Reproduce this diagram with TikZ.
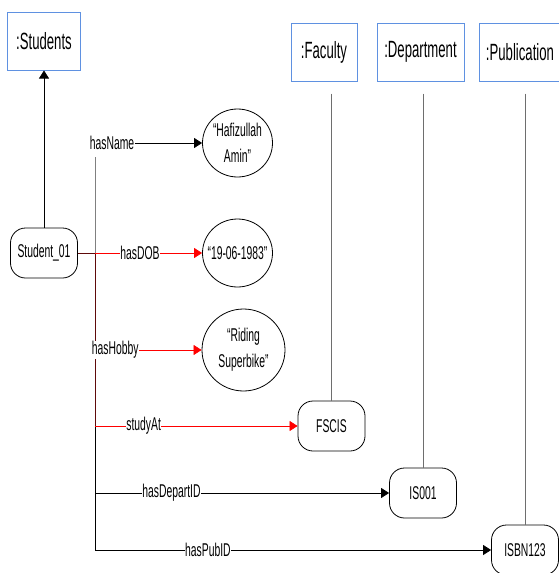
\documentclass[tikz,border=0pt]{standalone}
\usepackage{fontspec}
\setmainfont[FakeStretch=0.56]{Liberation Sans}
\usetikzlibrary{arrows.meta,shapes.geometric}

\definecolor{classblue}{RGB}{95,145,225}
\definecolor{trunkred}{RGB}{95,10,10}
\definecolor{linegray}{RGB}{110,110,110}

\tikzset{
  classbox/.style={draw=classblue, line width=1pt, minimum height=58pt,
    font=\fontsize{23.5}{26}\selectfont},
  inst/.style={draw, line width=0.8pt, rounded corners=15pt, minimum height=50pt,
    minimum width=67pt, font=\fontsize{18.5}{22}\selectfont},
  lit/.style={draw, ellipse, line width=0.8pt, minimum width=70pt, minimum height=68pt},
  littext/.style={align=center, font=\fontsize{18.5}{26}\selectfont},
  lbl/.style={fill=white, inner sep=0.5pt, font=\fontsize{18.5}{22}\selectfont},
  prop/.style={line width=0.7pt, -{Triangle[length=8pt,width=10pt]}},
  redprop/.style={prop, red},
  typeline/.style={linegray, line width=0.7pt, shorten <=12pt}
}

\begin{document}
\begin{tikzpicture}[x=1pt,y=-1pt]
  \def\Xt{95};
  \useasboundingbox (0,0) rectangle (558,573);

  % classes
  \node[classbox, minimum width=73pt] (students) at (44,41) {:Students};
  \node[classbox, minimum width=66pt] (faculty) at (324,52) {:Faculty};
  \node[classbox, minimum width=87pt] (dept) at (420.5,52) {:Department};
  \node[classbox, minimum width=82pt] (pub) at (520,52) {:Publication};

  % instances and literals
  \node[inst] (student) at (44,253) {Student\_01};
  \node[lit, label={[littext]center:{“Hafizullah\\Amin”}}] (name) at (237.5,143) {};
  \node[lit, label={[littext]center:{“19-06-1983”}}] (dob) at (237.5,253) {};
  \node[lit, minimum width=83pt, minimum height=82pt,
    label={[littext]center:{“Riding\\Superbike”}}] (hobby) at (243.5,350) {};
  \node[inst] (fscis) at (331.5,426) {FSCIS};
  \node[inst] (is) at (423,493) {IS001};
  \node[inst] (isbn) at (525,550) {ISBN123};

  % trunk
  \node[lbl] (hn) at (112,143) {hasName};
  \coordinate (t0) at (\Xt,157);
  \coordinate (t1) at (\Xt,253);
  \coordinate (t2) at (\Xt,350);
  \coordinate (t3) at (\Xt,426);
  \coordinate (t4) at (\Xt,493);
  \coordinate (t5) at (\Xt,550);
  \draw[line width=0.7pt, black!50] (t0) -- (t1);
  \draw[line width=1pt, trunkred] (student) -- (t1) -- (t3);
  \draw[line width=0.7pt] (t3) -- (t5);

  % properties
  \draw[prop] (student) -- (students);
  \draw[prop] (hn) -- (name);
  \draw[redprop] (t1) -- (dob) node[lbl, text=black, pos=0.42] (ldob) {hasDOB};
  \draw[redprop] (t2) -- (hobby) node[lbl, text=black, pos=0.19] (lhobby) {hasHobby};
  \draw[redprop] (t3) -- (fscis) node[lbl, text=black, pos=0.24] (lstudy) {studyAt};
  \draw[prop] (t4) -- (is) node[lbl, pos=0.26] (ldept) {hasDepartID};
  \draw[prop] (t5) -- (isbn) node[lbl, pos=0.285] (lpub) {hasPubID};

  % types
  \draw[typeline] (faculty.south -| fscis.north) -- (fscis.north);
  \draw[typeline] (dept.south -| is.north) -- (is.north);
  \draw[typeline] (pub.south -| isbn.north) -- (isbn.north);
\end{tikzpicture}
\end{document}
